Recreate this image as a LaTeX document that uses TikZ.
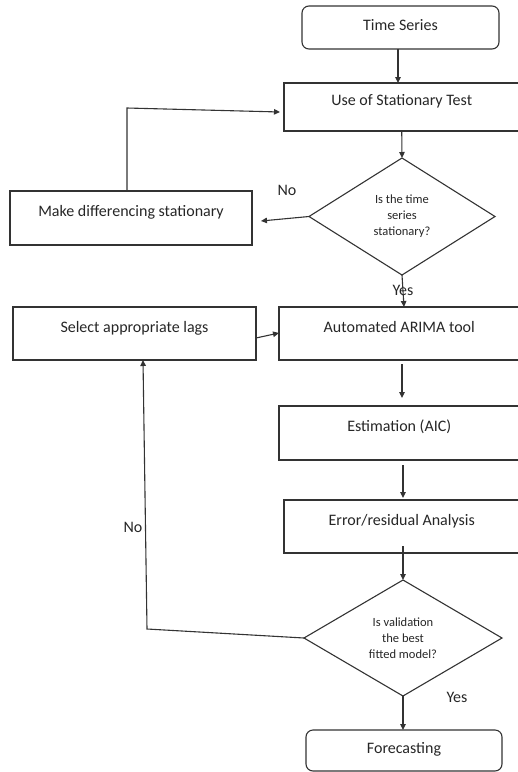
\documentclass[tikz,border=0pt]{standalone}
\usepackage{fontspec}
\setmainfont{Carlito}
\usetikzlibrary{arrows.meta,shapes.geometric,calc}
\definecolor{ln}{HTML}{333333}
\definecolor{tx}{HTML}{262626}
\begin{document}
\begin{tikzpicture}[x=1pt,y=-1pt,
  base/.style={draw=ln,line width=1.1pt,outer sep=0pt,inner sep=0pt,text=tx,font=\fontsize{16}{19}\selectfont},
  boxr/.style={base,rectangle,text height=12pt,text depth=15pt},
  boxround/.style={base,rectangle,rounded corners=7pt,text height=12pt,text depth=6pt},
  dia/.style={base,diamond,aspect=1.6,align=center,font=\fontsize{12.5}{16}\selectfont},
  arr/.style={draw=ln,line width=1.1pt,-{Triangle[length=6pt,width=5.5pt]}},
  lab/.style={text=tx,font=\fontsize{16}{19}\selectfont,inner sep=0pt}]
\useasboundingbox (0,0) rectangle (518,772);
\clip (0,0) rectangle (518,772);
\node[boxround,minimum width=197pt,minimum height=43pt] (ts) at (400.5,27.5) {Time Series};
\node[boxr,minimum width=235.5pt,minimum height=48pt] (st) at (401.75,107) {Use of Stationary Test};
\node[dia,minimum width=186pt,minimum height=117pt] (d1) at (402,216.5) {Is the time\\series\\stationary?};
\node[boxr,minimum width=242pt,minimum height=54pt] (md) at (131,218) {Make differencing stationary};
\node[boxr,minimum width=243pt,minimum height=53pt] (sl) at (134.5,333.5) {Select appropriate lags};
\node[boxr,minimum width=240.5pt,minimum height=53pt] (ar) at (399.25,333.5) {Automated ARIMA tool};
\node[boxr,minimum width=240.5pt,minimum height=54pt] (es) at (399.25,433) {Estimation (AIC)};
\node[boxr,minimum width=235.5pt,minimum height=53pt] (er) at (401.75,526.5) {Error/residual Analysis};
\node[dia,minimum width=198pt,minimum height=116pt] (d2) at (403,638) {Is validation\\the best\\fitted model?};
\node[boxround,minimum width=196pt,minimum height=41pt] (fc) at (404,750.5) {Forecasting};

\node[lab] (no1) at (287,190) {No};
\node[lab] (yes1) at (403,290) {Yes};
\node[lab] (no2) at (133,527) {No};
\node[lab] (yes2) at (457,697) {Yes};

\coordinate (c1) at (127,108);
\coordinate (c2) at (147,629);

\draw[arr] ([xshift=-2.5pt]ts.south) -- ([xshift=-2.5pt]ts.south |- st.north);
\draw[arr] (st.south) -- (d1.north);
\draw[arr] (d1.west) -- ($(md.east)+(9,3)$);
\draw[arr] ([xshift=-4pt]md.north) -- (c1) -- ([xshift=-4pt,yshift=-5pt]st.west);
\draw[arr] (d1.south) -- ([xshift=4.75pt]ar.north);
\draw[arr] ([yshift=-4.5pt]sl.east) -- ([yshift=0.5pt]ar.west);
\draw[arr,shorten <=4pt,shorten >=8pt] ([xshift=2.75pt]ar.south) -- ([xshift=2.75pt]es.north);
\draw[arr,shorten <=5pt,shorten >=2pt] ([xshift=3.75pt]es.south) -- ([xshift=3.75pt]es.south |- er.north);
\draw[arr,shorten <=-7pt] (d2.north |- er.south) -- (d2.north);
\draw[arr] (d2.west) -- (c2) -- ([xshift=8.5pt]sl.south);
\draw[arr] (d2.south) -- (d2.south |- fc.north);
\end{tikzpicture}
\end{document}
